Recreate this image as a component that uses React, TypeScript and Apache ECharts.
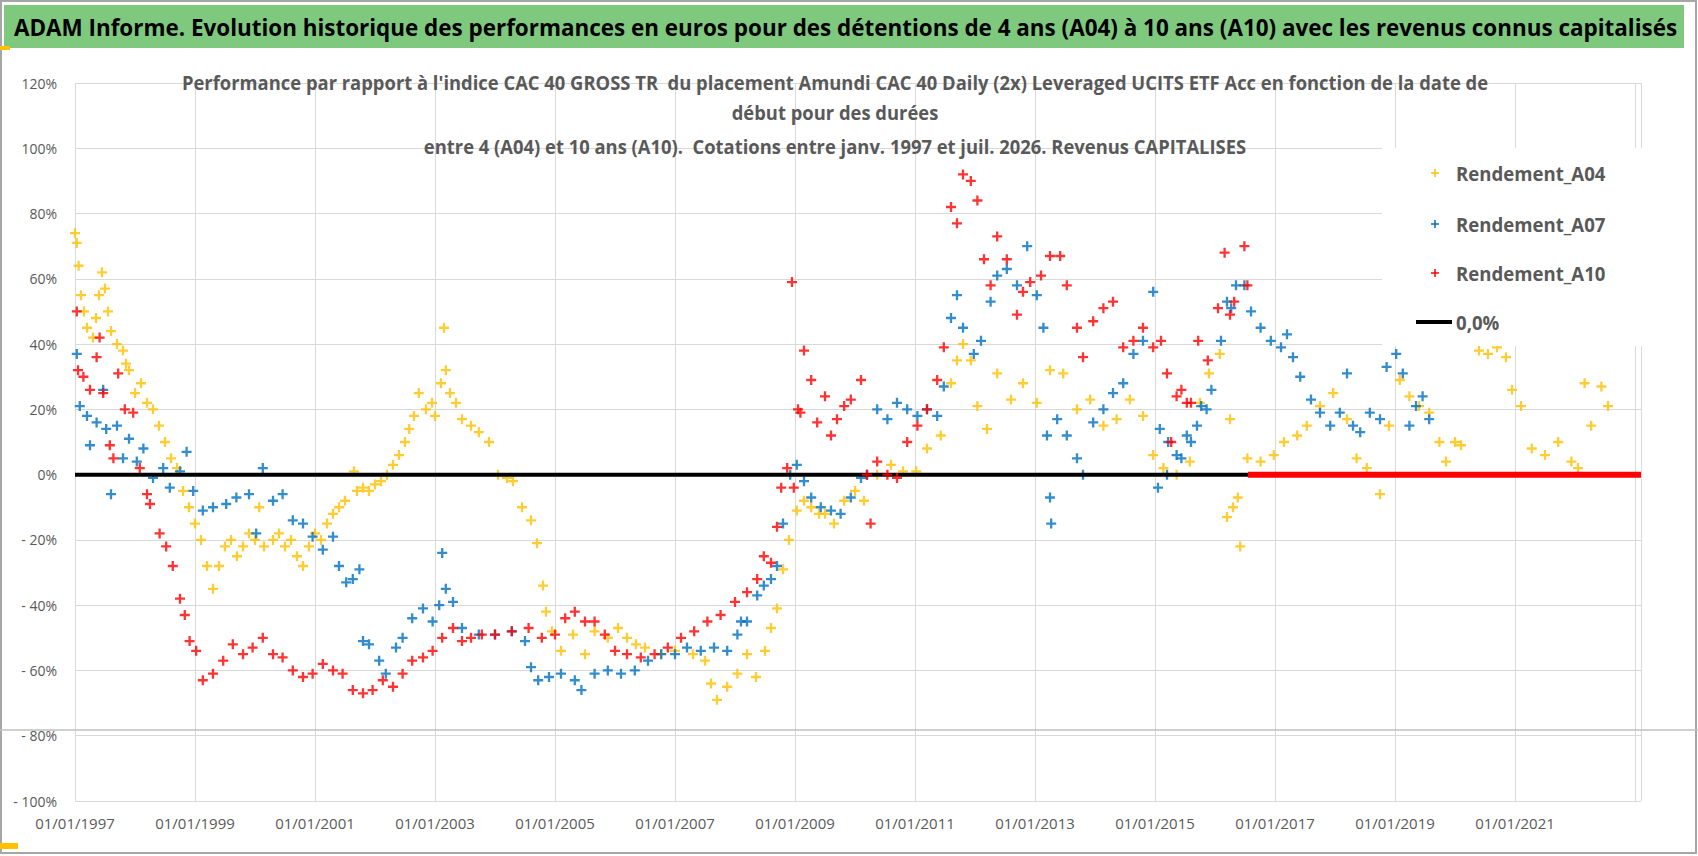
import React, { useEffect, useRef } from "react";
import * as echarts from "echarts";

const TITLE = "ADAM Informe. Evolution historique des performances en euros pour des détentions de 4 ans (A04) à 10 ans (A10) avec les revenus connus capitalisés";
const SUBTITLE = [
  "Performance par rapport à l'indice CAC 40 GROSS TR  du placement Amundi CAC 40 Daily (2x) Leveraged UCITS ETF Acc en fonction de la date de",
  "début pour des durées",
  "entre 4 (A04) et 10 ans (A10).  Cotations entre janv. 1997 et juil. 2026. Revenus CAPITALISES",
];
const LEGEND = ["Rendement_A04", "Rendement_A07", "Rendement_A10", "0,0%"];

const A04: [number, number][] = [
[1997.0,74],[1997.03,71],[1997.06,64],[1997.1,55],[1997.15,50],[1997.2,45],[1997.3,42],[1997.35,48],[1997.4,55],[1997.45,62],[1997.5,57],[1997.55,50],[1997.6,44],[1997.7,40],[1997.8,38],[1997.85,34],[1997.9,32],[1998.0,25],[1998.1,28],[1998.2,22],[1998.3,20],[1998.4,15],[1998.5,10],[1998.6,5],[1998.7,2],[1998.8,-5],[1998.9,-10],[1999.0,-15],[1999.1,-20],[1999.2,-28],[1999.3,-35],[1999.4,-28],[1999.5,-22],[1999.6,-20],[1999.7,-25],[1999.8,-22],[1999.9,-18],[2000.0,-20],[2000.07,-10],[2000.15,-22],[2000.3,-20],[2000.4,-18],[2000.5,-22],[2000.6,-20],[2000.7,-25],[2000.8,-28],[2000.9,-22],[2001.0,-18],[2001.1,-20],[2001.2,-15],[2001.3,-12],[2001.4,-10],[2001.5,-8],[2001.65,1],[2001.7,-5],[2001.8,-4],[2001.9,-5],[2002.0,-3],[2002.1,-2],[2002.2,0],[2002.3,3],[2002.4,6],[2002.5,10],[2002.57,14],[2002.65,18],[2002.73,25],[2002.85,20],[2002.95,22],[2003.0,18],[2003.1,28],[2003.15,45],[2003.18,32],[2003.25,25],[2003.35,22],[2003.45,17],[2003.6,15],[2003.73,13],[2003.9,10],[2004.05,0],[2004.2,-1],[2004.3,-2],[2004.45,-10],[2004.6,-14],[2004.7,-21],[2004.8,-34],[2004.85,-42],[2004.95,-48],[2005.1,-54],[2005.3,-49],[2005.5,-55],[2005.66,-48],[2005.88,-50],[2006.05,-47],[2006.2,-50],[2006.35,-52],[2006.5,-53],[2006.77,-55],[2007.0,-54],[2007.3,-55],[2007.5,-57],[2007.6,-64],[2007.7,-69],[2007.87,-65],[2008.04,-61],[2008.2,-55],[2008.35,-62],[2008.5,-54],[2008.6,-47],[2008.7,-41],[2008.8,-29],[2008.9,-20],[2009.03,-11],[2009.15,-8],[2009.27,-10],[2009.4,-12],[2009.5,-12],[2009.65,-15],[2009.82,-8],[2010.0,-5],[2010.15,-8],[2010.37,0],[2010.6,3],[2010.8,1],[2011.02,1],[2011.2,8],[2011.43,12],[2011.6,28],[2011.7,35],[2011.8,40],[2011.93,35],[2012.04,21],[2012.2,14],[2012.37,31],[2012.6,23],[2012.8,28],[2013.03,22],[2013.25,32],[2013.47,31],[2013.7,20],[2013.92,23],[2014.14,15],[2014.36,17],[2014.58,23],[2014.8,18],[2014.97,6],[2015.14,2],[2015.36,0],[2015.58,4],[2015.75,22],[2015.9,31],[2016.08,37],[2016.2,-13],[2016.25,17],[2016.3,-10],[2016.38,-7],[2016.42,-22],[2016.54,5],[2016.76,4],[2016.98,6],[2017.15,10],[2017.37,12],[2017.53,15],[2017.75,21],[2017.97,25],[2018.2,17],[2018.36,5],[2018.53,2],[2018.75,-6],[2018.9,15],[2019.08,29],[2019.24,24],[2019.4,21],[2019.57,19],[2019.74,10],[2019.85,4],[2020.0,10],[2020.1,9],[2020.4,38],[2020.55,37],[2020.7,39],[2020.85,36],[2020.95,26],[2021.1,21],[2021.28,8],[2021.5,6],[2021.72,10],[2021.94,4],[2022.05,2],[2022.16,28],[2022.27,15],[2022.44,27],[2022.55,21]
];

const A07: [number, number][] = [
[1997.03,37],[1997.08,21],[1997.2,18],[1997.25,9],[1997.36,16],[1997.47,26],[1997.52,14],[1997.6,-6],[1997.7,15],[1997.8,5],[1997.9,11],[1998.03,4],[1998.14,8],[1998.3,-1],[1998.47,2],[1998.58,-4],[1998.75,1],[1998.86,7],[1998.97,-5],[1999.13,-11],[1999.3,-10],[1999.52,-9],[1999.69,-7],[1999.9,-6],[2000.02,-18],[2000.13,2],[2000.3,-8],[2000.46,-6],[2000.63,-14],[2000.8,-15],[2000.96,-19],[2001.13,-23],[2001.3,-19],[2001.4,-28],[2001.52,-33],[2001.63,-32],[2001.74,-29],[2001.8,-51],[2001.9,-52],[2002.07,-57],[2002.18,-61],[2002.35,-53],[2002.46,-50],[2002.62,-44],[2002.8,-41],[2002.96,-45],[2003.07,-40],[2003.12,-24],[2003.18,-35],[2003.3,-39],[2003.45,-47],[2003.73,-49],[2004.0,-49],[2004.28,-48],[2004.5,-51],[2004.6,-59],[2004.72,-63],[2004.9,-62],[2005.1,-61],[2005.33,-63],[2005.44,-66],[2005.66,-61],[2005.88,-60],[2006.1,-61],[2006.33,-60],[2006.55,-57],[2006.77,-55],[2007.0,-55],[2007.2,-53],[2007.43,-54],[2007.65,-53],[2007.87,-54],[2008.04,-49],[2008.1,-45],[2008.2,-45],[2008.37,-37],[2008.48,-34],[2008.6,-32],[2008.7,-28],[2008.8,-15],[2008.92,0],[2009.03,3],[2009.15,-2],[2009.27,-7],[2009.43,-10],[2009.6,-11],[2009.76,-12],[2009.93,-7],[2010.1,-1],[2010.2,0],[2010.37,20],[2010.54,17],[2010.7,22],[2010.87,20],[2011.04,18],[2011.2,20],[2011.37,18],[2011.48,27],[2011.6,48],[2011.7,55],[2011.8,45],[2011.98,37],[2012.1,41],[2012.26,53],[2012.37,61],[2012.53,63],[2012.7,58],[2012.87,70],[2013.03,55],[2013.14,45],[2013.2,12],[2013.25,-7],[2013.27,-15],[2013.37,17],[2013.53,12],[2013.7,5],[2013.8,0],[2013.97,16],[2014.14,20],[2014.3,25],[2014.47,28],[2014.64,37],[2014.8,41],[2014.97,56],[2015.05,-4],[2015.08,14],[2015.2,0],[2015.22,10],[2015.36,6],[2015.44,5],[2015.53,12],[2015.6,10],[2015.7,15],[2015.77,21],[2015.86,20],[2015.94,26],[2016.1,41],[2016.2,53],[2016.27,51],[2016.35,58],[2016.49,58],[2016.6,50],[2016.76,45],[2016.93,41],[2017.1,39],[2017.2,43],[2017.3,36],[2017.42,30],[2017.6,23],[2017.75,19],[2017.92,15],[2018.08,19],[2018.2,31],[2018.3,15],[2018.42,13],[2018.58,19],[2018.75,17],[2018.86,33],[2019.02,37],[2019.13,31],[2019.24,15],[2019.35,21],[2019.46,24],[2019.57,17]
];

const A10: [number, number][] = [
[1997.03,50],[1997.05,32],[1997.14,30],[1997.25,26],[1997.36,36],[1997.41,42],[1997.47,25],[1997.58,9],[1997.64,5],[1997.72,31],[1997.83,20],[1997.97,19],[1998.08,2],[1998.2,-6],[1998.25,-9],[1998.41,-18],[1998.52,-22],[1998.63,-28],[1998.75,-38],[1998.83,-43],[1998.91,-51],[1999.02,-54],[1999.13,-63],[1999.3,-61],[1999.47,-57],[1999.63,-52],[1999.8,-55],[1999.96,-53],[2000.13,-50],[2000.3,-55],[2000.46,-56],[2000.63,-60],[2000.8,-62],[2000.96,-61],[2001.13,-58],[2001.3,-60],[2001.46,-61],[2001.63,-66],[2001.8,-67],[2001.96,-66],[2002.13,-63],[2002.3,-65],[2002.46,-61],[2002.62,-57],[2002.8,-56],[2002.96,-54],[2003.12,-50],[2003.3,-47],[2003.45,-51],[2003.6,-50],[2003.78,-49],[2004.0,-49],[2004.28,-48],[2004.56,-47],[2004.78,-50],[2005.0,-49],[2005.17,-44],[2005.33,-42],[2005.5,-45],[2005.66,-45],[2005.83,-49],[2006.0,-54],[2006.2,-55],[2006.43,-56],[2006.66,-55],[2006.88,-53],[2007.1,-50],[2007.32,-48],[2007.54,-45],[2007.76,-43],[2008.0,-39],[2008.2,-36],[2008.37,-32],[2008.48,-25],[2008.6,-27],[2008.7,-16],[2008.77,-4],[2008.87,2],[2008.95,59],[2008.98,-4],[2009.05,20],[2009.09,19],[2009.15,38],[2009.27,29],[2009.37,16],[2009.5,24],[2009.6,12],[2009.7,17],[2009.82,21],[2009.93,23],[2010.1,29],[2010.2,0],[2010.26,-15],[2010.37,4],[2010.54,0],[2010.7,-1],[2010.87,10],[2011.04,15],[2011.2,20],[2011.37,29],[2011.48,39],[2011.6,82],[2011.7,77],[2011.8,92],[2011.93,90],[2012.04,84],[2012.15,66],[2012.26,58],[2012.37,73],[2012.53,66],[2012.7,49],[2012.8,56],[2012.92,59],[2013.1,61],[2013.25,67],[2013.42,67],[2013.53,58],[2013.7,45],[2013.8,36],[2013.97,47],[2014.14,51],[2014.3,53],[2014.47,39],[2014.64,41],[2014.8,45],[2014.97,39],[2015.1,41],[2015.2,31],[2015.27,10],[2015.36,24],[2015.44,26],[2015.53,22],[2015.6,22],[2015.72,41],[2015.88,35],[2016.05,51],[2016.16,68],[2016.25,49],[2016.32,53],[2016.49,70],[2016.54,58]
];

const ZERO_LINE: [number, number][] = [[1997.0, 0], [2016.55, 0]];
const A10_ZERO: [number, number][] = [[2016.55, 0], [2023.1, 0]];

const X_MIN = 1997;
const X_MAX = 2023.1;
const LAST_LABEL = 2021;

const FONT = "'Open Sans', sans-serif";
const PLUS = "path://M4 0h2.4v4h4v2.4h-4v4h-2.4v-4h-4v-2.4h4z";
const COLORS = ["#FFC000", "#0070C0", "#FF0000", "#000000"];

export default function App() {
  const ref = useRef<HTMLDivElement>(null);
  useEffect(() => {
    document.body.style.margin = "0";
    const chart = echarts.init(ref.current!, undefined, { renderer: "svg" });
    const scatter = (name: string, data: [number, number][], color: string, z: number) => ({
      type: "scatter", name, data, symbol: PLUS, symbolSize: 10, z,
      itemStyle: { color }, silent: true,
    });
    const legendY = [173, 224, 273, 322];
    const legendGraphics: any[] = [
      { type: "rect", shape: { x: 1382, y: 148, width: 268, height: 198 }, style: { fill: "#fff" }, z: 5 },
    ];
    LEGEND.forEach((t, i) => {
      const y = legendY[i];
      if (i < 3) {
        legendGraphics.push({ type: "line", shape: { x1: 1431, y1: y, x2: 1439, y2: y }, style: { stroke: COLORS[i], lineWidth: 1.5 }, z: 6 });
        legendGraphics.push({ type: "line", shape: { x1: 1435, y1: y - 4, x2: 1435, y2: y + 4 }, style: { stroke: COLORS[i], lineWidth: 1.5 }, z: 6 });
      } else {
        legendGraphics.push({ type: "line", shape: { x1: 1416, y1: y, x2: 1452, y2: y }, style: { stroke: "#000", lineWidth: 4 }, z: 6 });
      }
      legendGraphics.push({ type: "text", x: 1456, y, scaleX: 0.93, z: 6, style: { text: t, fill: "#595959", font: `bold 20px ${FONT}`, textVerticalAlign: "middle" } });
    });
    chart.setOption({
      animation: false,
      backgroundColor: "#fff",
      grid: { left: 75, right: 57, top: 83, bottom: 55 },
      xAxis: {
        type: "value", min: X_MIN, max: X_MAX, interval: 2,
        axisLine: { show: false }, axisTick: { show: false },
        splitLine: { lineStyle: { color: "#d9d9d9" } },
        axisLabel: { showMaxLabel: false, color: "#595959", fontSize: 15, fontFamily: FONT, margin: 14,
          formatter: (v: number) => (Number.isInteger(v) && v <= LAST_LABEL ? "01/01/" + v : "") },
      },
      yAxis: {
        type: "value", min: -100, max: 120, interval: 20,
        axisLine: { show: false }, axisTick: { show: false },
        splitLine: { lineStyle: { color: "#d9d9d9" } },
        axisLabel: { color: "#595959", fontSize: 14, fontFamily: FONT, margin: 18,
          formatter: (v: number) => (v < 0 ? "- " + -v + "%" : v + "%") },
      },
      series: [
        scatter("Rendement_A04", A04, COLORS[0], 2),
        scatter("Rendement_A07", A07, COLORS[1], 3),
        { type: "line", name: "0,0%", data: ZERO_LINE, symbol: "none", lineStyle: { color: "#000", width: 4 }, z: 4, silent: true },
        scatter("Rendement_A10", A10, COLORS[2], 5),
        { type: "line", name: "A10 zéro", data: A10_ZERO, symbol: "none", lineStyle: { color: COLORS[2], width: 6 }, z: 5, silent: true },
      ],
      graphic: [
        { type: "rect", shape: { x: 1, y: 1, width: 1695, height: 852 }, style: { fill: "none", stroke: "#a6a6a6", lineWidth: 2 }, z: 0 },
        { type: "rect", shape: { x: 4, y: 5, width: 1680, height: 43 }, style: { fill: "#7FC97F" }, z: 1 },
        { type: "rect", shape: { x: 0, y: 46, width: 10, height: 4 }, style: { fill: "#FFC000" }, z: 1 },
        { type: "text", x: 14, y: 27, scaleX: 0.935, z: 2, style: { text: TITLE, fill: "#000", font: `bold 24px ${FONT}`, textVerticalAlign: "middle" } },
        { type: "line", shape: { x1: 0, y1: 730, x2: 1698, y2: 730 }, style: { stroke: "#c0c0c0", lineWidth: 1.5 }, z: 1 },
        { type: "rect", shape: { x: 0, y: 843, width: 18, height: 6 }, style: { fill: "#FFC000" }, z: 1 },
        ...SUBTITLE.map((t, i) => ({
          type: "text", x: 835, y: [82, 112, 146][i], scaleX: 0.92, z: 6,
          style: { text: t, fill: "#595959", font: `bold 20px ${FONT}`, textAlign: "center", textVerticalAlign: "middle" },
        })),
        ...legendGraphics,
      ],
    });
    return () => chart.dispose();
  }, []);
  return <div ref={ref} style={{ width: 1698, height: 856 }} />;
}
